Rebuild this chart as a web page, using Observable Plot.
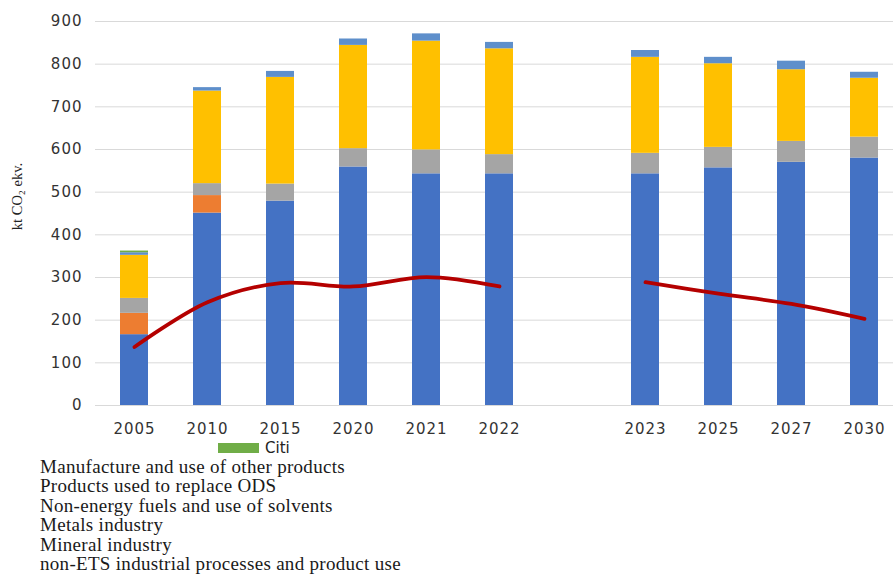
<!DOCTYPE html>
<html>
<head>
<meta charset="utf-8">
<script src="https://cdn.jsdelivr.net/npm/d3@7"></script>
<script src="https://cdn.jsdelivr.net/npm/@observablehq/plot@0.6"></script>
<style>
  body { margin: 0; background: #fff; }
  #wrap { position: relative; width: 893px; height: 575px; overflow: hidden; }
  #chart svg g[aria-label="x-axis tick label"] text,
  #chart svg g[aria-label="y-axis tick label"] text { letter-spacing: 1px; }
  #legend { position: absolute; left: 0; top: 440px; width: 893px; height: 135px; }
  .citi { position: absolute; left: 218px; top: 3px; height: 14px; }
  .citi .sw { position: absolute; left: 0; top: 0; width: 41px; height: 10px; }
  .citi .lb { position: absolute; left: 47px; top: -2px; font-family: "DejaVu Sans", sans-serif; font-size: 15px; line-height: 15px; color: #222; white-space: nowrap; }
  .lines { position: absolute; left: 40px; top: 16.5px; font-family: "Liberation Serif", serif; font-size: 19px; letter-spacing: 0.3px; line-height: 19.5px; color: #1a1a1a; white-space: nowrap; }
</style>
</head>
<body>
<div id="wrap">
  <div id="chart"></div>
  <div id="legend"></div>
</div>
<script>
// ---- data ----
const years = ["2005", "2010", "2015", "2020", "2021", "2022", "2023", "2025", "2027", "2030"];
const xDomain = ["2005", "2010", "2015", "2020", "2021", "2022", "gap", "2023", "2025", "2027", "2030"];
const seriesNames = ["Mineral industry", "Metals industry", "Non-energy fuels and use of solvents", "Products used to replace ODS", "Manufacture and use of other products", "Citi"];
const seriesColors = ["#4472C4", "#ED7D31", "#A5A5A5", "#FFC000", "#5E8FCB", "#70AD47"];
const mineral       = [166, 451, 479, 559, 543, 543, 543, 557, 570, 580];
const metals        = [50, 41, 0, 0, 0, 0, 0, 0, 0, 0];
const solvents      = [35, 28, 40, 43, 56, 45, 48, 48, 49, 49];
const ods           = [101, 217, 250, 242, 255, 248, 225, 196, 168, 138];
const otherProducts = [6, 8, 14, 15, 17, 15, 16, 15, 20, 14];
const citi          = [4, 0, 0, 0, 0, 0, 0, 0, 0, 0];
const lineName = "non-ETS industrial processes and product use";
const lineValues  = [137, 242, 287, 279, 301, 279, 289, 262, 238, 203];
const lineSegment = ["a", "a", "a", "a", "a", "a", "b", "b", "b", "b"];
const yTicks = [0, 100, 200, 300, 400, 500, 600, 700, 800, 900];
const yLabel = "kt CO₂ ekv.";

// ---- tables ----
const seriesValues = [mineral, metals, solvents, ods, otherProducts, citi];
const rows = [];
seriesNames.forEach((s, i) => years.forEach((y, j) => rows.push({year: y, series: s, value: seriesValues[i][j]})));
const lineRows = years.map((y, j) => ({year: y, value: lineValues[j], seg: lineSegment[j]}));

const chart = Plot.plot({
  width: 893,
  height: 440,
  marginLeft: 95,
  marginRight: 0,
  marginTop: 21,
  marginBottom: 35,
  style: {fontFamily: "DejaVu Sans, sans-serif", fontSize: "15px", color: "#333", background: "#fff", overflow: "visible"},
  x: {domain: xDomain, paddingInner: 0.616, paddingOuter: 0.27, align: 0.625, label: null},
  y: {domain: [0, 900], label: null},
  color: {domain: seriesNames, range: seriesColors},
  marks: [
    Plot.gridY(yTicks, {stroke: "#d9d9d9", strokeOpacity: 1, strokeWidth: 1}),
    Plot.barY(rows, {x: "year", y: "value", fill: "series", order: seriesNames}),
    Plot.lineY(lineRows, {x: "year", y: "value", z: "seg", stroke: "#B40000", strokeWidth: 3.8, curve: "catmull-rom"}),
    Plot.axisY(yTicks, {tickSize: 0, tickPadding: 13, label: null, fill: "#333"}),
    Plot.axisX(years, {tickSize: 0, tickPadding: 18, label: null, fill: "#333"}),
    Plot.text([yLabel], {frameAnchor: "left", rotate: -90, dx: -78, dy: -17, textAnchor: "middle", fontFamily: "Liberation Serif, serif", fontSize: 14.5, fill: "#222"})
  ]
});
document.getElementById("chart").appendChild(chart);

// ---- legend ----
const legend = document.getElementById("legend");
const citiIdx = seriesNames.indexOf("Citi");
const citiItem = document.createElement("div");
citiItem.className = "citi";
citiItem.innerHTML = `<span class="sw" style="background:${seriesColors[citiIdx]}"></span><span class="lb">${seriesNames[citiIdx]}</span>`;
legend.appendChild(citiItem);
const lines = document.createElement("div");
lines.className = "lines";
const textNames = seriesNames.filter(s => s !== "Citi").reverse().concat([lineName]);
textNames.forEach(n => { const d = document.createElement("div"); d.textContent = n; lines.appendChild(d); });
legend.appendChild(lines);
</script>
</body>
</html>
